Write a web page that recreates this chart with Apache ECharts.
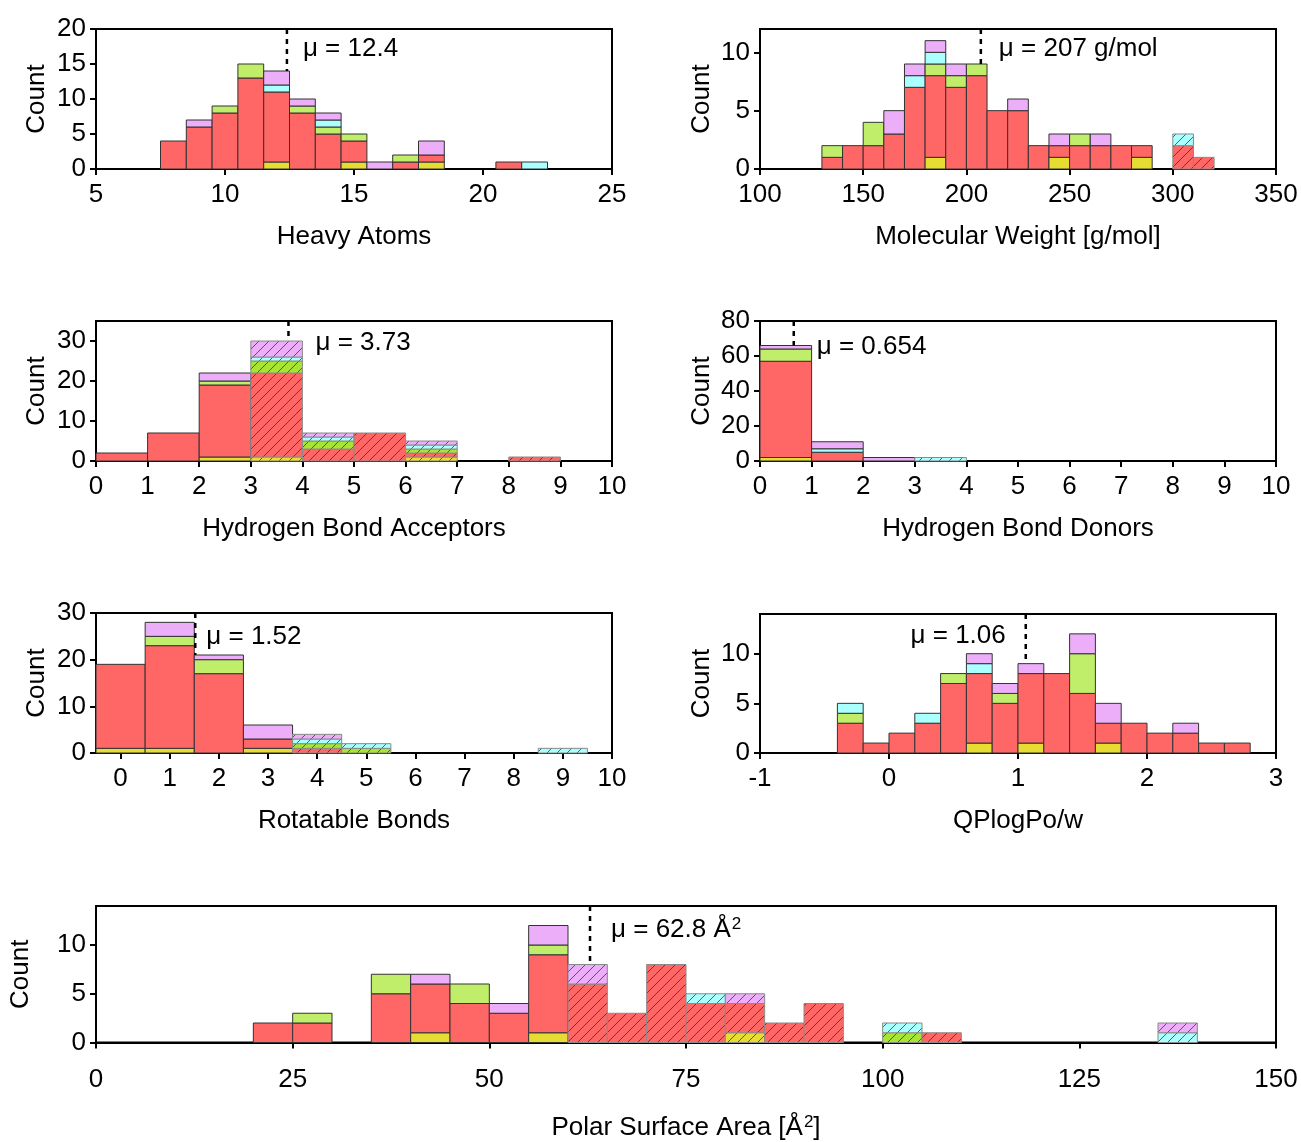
<!DOCTYPE html>
<html>
<head>
<meta charset="utf-8">
<script src="https://cdn.jsdelivr.net/npm/echarts@6/dist/echarts.min.js"></script>
<style>
html, body { margin: 0; padding: 0; background: #fff; }
#chart { width: 1301px; height: 1142px; }
</style>
</head>
<body>
<div id="chart"></div>
<script>
// stack order, bottom to top: yellow, red, green, cyan, violet
var segColors = ['#e6dc32', '#ff6666', '#c0ee6a', '#aaffff', '#ecaef8'];
var hatchColors = ['#e6dc32', '#ff6666', '#a8e532', '#aaffff', '#ecaef8'];

// Heavy Atoms, bins of 1 centred on integers (left edges)
var haLeft   = [7.5, 8.5, 9.5, 10.5, 11.5, 12.5, 13.5, 14.5, 15.5, 16.5, 17.5, 18.5, 19.5, 20.5, 21.5];
var haYellow = [0, 0, 0, 0, 1, 0, 0, 1, 0, 0, 1, 0, 0, 0, 0];
var haRed    = [4, 6, 8, 13, 10, 8, 5, 3, 0, 1, 1, 0, 0, 1, 0];
var haGreen  = [0, 0, 1, 2, 0, 1, 1, 1, 0, 1, 0, 0, 0, 0, 0];
var haCyan   = [0, 0, 0, 0, 1, 0, 1, 0, 0, 0, 0, 0, 0, 0, 1];
var haViolet = [0, 1, 0, 0, 2, 1, 1, 0, 1, 0, 2, 0, 0, 0, 0];

// Molecular Weight, bins of 10
var mwLeft   = [130, 140, 150, 160, 170, 180, 190, 200, 210, 220, 230, 240, 250, 260, 270, 280, 290, 300, 310];
var mwYellow = [0, 0, 0, 0, 0, 1, 0, 0, 0, 0, 0, 1, 0, 0, 0, 1, 0, 0, 0];
var mwRed    = [1, 2, 2, 3, 7, 7, 7, 8, 5, 5, 2, 1, 2, 2, 2, 1, 0, 2, 1];
var mwGreen  = [1, 0, 2, 0, 0, 1, 1, 1, 0, 0, 0, 0, 1, 0, 0, 0, 0, 0, 0];
var mwCyan   = [0, 0, 0, 0, 1, 1, 0, 0, 0, 0, 0, 0, 0, 0, 0, 0, 0, 1, 0];
var mwViolet = [0, 0, 0, 2, 1, 1, 1, 0, 0, 1, 0, 1, 0, 1, 0, 0, 0, 0, 0];

// Hydrogen Bond Acceptors
var hbaLeft   = [0, 1, 2, 3, 4, 5, 6, 7, 8];
var hbaYellow = [0, 0, 1, 1, 0, 0, 1, 0, 0];
var hbaRed    = [2, 7, 18, 21, 3, 7, 1, 0, 1];
var hbaGreen  = [0, 0, 1, 3, 2, 0, 1, 0, 0];
var hbaCyan   = [0, 0, 0, 1, 1, 0, 1, 0, 0];
var hbaViolet = [0, 0, 2, 4, 1, 0, 1, 0, 0];

// Hydrogen Bond Donors
var hbdLeft   = [0, 1, 2, 3];
var hbdYellow = [2, 0, 0, 0];
var hbdRed    = [55, 5, 0, 0];
var hbdGreen  = [7, 0, 0, 0];
var hbdCyan   = [0, 2, 0, 2];
var hbdViolet = [2, 4, 2, 0];

// Rotatable Bonds, centred on integers
var rbLeft   = [-0.5, 0.5, 1.5, 2.5, 3.5, 4.5, 5.5, 6.5, 7.5, 8.5];
var rbYellow = [1, 1, 0, 1, 0, 0, 0, 0, 0, 0];
var rbRed    = [18, 22, 17, 2, 1, 0, 0, 0, 0, 0];
var rbGreen  = [0, 2, 3, 0, 1, 1, 0, 0, 0, 0];
var rbCyan   = [0, 0, 0, 0, 1, 1, 0, 0, 0, 1];
var rbViolet = [0, 3, 1, 3, 1, 0, 0, 0, 0, 0];

// QPlogPo/w, bins of 0.2
var lpLeft   = [-0.4, -0.2, 0, 0.2, 0.4, 0.6, 0.8, 1.0, 1.2, 1.4, 1.6, 1.8, 2.0, 2.2, 2.4, 2.6];
var lpYellow = [0, 0, 0, 0, 0, 1, 0, 1, 0, 0, 1, 0, 0, 0, 0, 0];
var lpRed    = [3, 1, 2, 3, 7, 7, 5, 7, 8, 6, 2, 3, 2, 2, 1, 1];
var lpGreen  = [1, 0, 0, 0, 1, 0, 1, 0, 0, 4, 0, 0, 0, 0, 0, 0];
var lpCyan   = [1, 0, 0, 1, 0, 1, 0, 0, 0, 0, 0, 0, 0, 0, 0, 0];
var lpViolet = [0, 0, 0, 0, 0, 1, 1, 1, 0, 2, 2, 0, 0, 1, 0, 0];

// Polar Surface Area, bins of 5
var psaLeft   = [20, 25, 30, 35, 40, 45, 50, 55, 60, 65, 70, 75, 80, 85, 90, 95, 100, 105, 110, 115, 120, 125, 130, 135];
var psaYellow = [0, 0, 0, 0, 1, 0, 0, 1, 0, 0, 0, 0, 1, 0, 0, 0, 0, 0, 0, 0, 0, 0, 0, 0];
var psaRed    = [2, 2, 0, 5, 5, 4, 3, 8, 6, 3, 8, 4, 3, 2, 4, 0, 0, 1, 0, 0, 0, 0, 0, 0];
var psaGreen  = [0, 1, 0, 2, 0, 2, 0, 1, 0, 0, 0, 0, 0, 0, 0, 0, 1, 0, 0, 0, 0, 0, 0, 0];
var psaCyan   = [0, 0, 0, 0, 0, 0, 0, 0, 0, 0, 0, 1, 0, 0, 0, 0, 1, 0, 0, 0, 0, 0, 0, 1];
var psaViolet = [0, 0, 0, 0, 1, 0, 1, 2, 2, 0, 0, 0, 1, 0, 0, 0, 0, 0, 0, 0, 0, 0, 0, 1];

// means shown as dashed lines
var means = [12.4, 207, 3.73, 0.654, 1.52, 1.06, 62.8];
var meanText = ['μ = 12.4', 'μ = 207 g/mol', 'μ = 3.73', 'μ = 0.654', 'μ = 1.52', 'μ = 1.06', 'μ = 62.8 Å{sup|2}'];

var FONT = '"Liberation Sans", Arial, sans-serif';
var FS = 26;

var panels = [
    { left: haLeft, w: 1, stacks: [haYellow, haRed, haGreen, haCyan, haViolet], hatchFrom: null,
      grid: [96, 29, 516, 140], x: [5, 25, 5], y: [20, 5], xname: 'Heavy Atoms', lab: [16, 20, 'left'] },
    { left: mwLeft, w: 10, stacks: [mwYellow, mwRed, mwGreen, mwCyan, mwViolet], hatchFrom: 300,
      grid: [760, 29, 516, 140], x: [100, 350, 50], y: [12, 5], xname: 'Molecular Weight [g/mol]', lab: [18, 20, 'left'] },
    { left: hbaLeft, w: 1, stacks: [hbaYellow, hbaRed, hbaGreen, hbaCyan, hbaViolet], hatchFrom: 3,
      grid: [96, 321, 516, 140], x: [0, 10, 1], y: [35, 10], xname: 'Hydrogen Bond Acceptors', lab: [27, 22, 'left'] },
    { left: hbdLeft, w: 1, stacks: [hbdYellow, hbdRed, hbdGreen, hbdCyan, hbdViolet], hatchFrom: 3,
      grid: [760, 321, 516, 140], x: [0, 10, 1], y: [80, 20], xname: 'Hydrogen Bond Donors', lab: [23, 26, 'left'] },
    { left: rbLeft, w: 1, stacks: [rbYellow, rbRed, rbGreen, rbCyan, rbViolet], hatchFrom: 3.5,
      grid: [96, 613, 516, 140], x: [-0.5, 10, 1], y: [30, 10], xname: 'Rotatable Bonds', lab: [11, 24, 'left'] },
    { left: lpLeft, w: 0.2, stacks: [lpYellow, lpRed, lpGreen, lpCyan, lpViolet], hatchFrom: null,
      grid: [760, 614, 516, 139], x: [-1, 3, 1], y: [14, 5], xname: 'QPlogPo/w', lab: [-20, 22, 'right'] },
    { left: psaLeft, w: 5, stacks: [psaYellow, psaRed, psaGreen, psaCyan, psaViolet], hatchFrom: 60,
      grid: [96, 906, 1180, 140], x: [0, 150, 25], y: [14, 5], xname: 'Polar Surface Area [Å{sup|2}]', lab: [21, 24, 'left'] }
];

var supStyle = { fontSize: 17, fontFamily: FONT, color: '#000', verticalAlign: 'top', padding: [0, 0, 12, 1] };

function makeHatch(color) {
    var c = document.createElement('canvas');
    c.width = 10;
    c.height = 10;
    var ctx = c.getContext('2d');
    ctx.fillStyle = color;
    ctx.fillRect(0, 0, 10, 10);
    ctx.strokeStyle = 'rgba(40,40,40,0.8)';
    ctx.lineWidth = 0.9;
    ctx.beginPath();
    ctx.moveTo(-1, 11); ctx.lineTo(11, -1);
    ctx.moveTo(-1, 1); ctx.lineTo(1, -1);
    ctx.moveTo(9, 11); ctx.lineTo(11, 9);
    ctx.stroke();
    return { image: c, repeat: 'repeat' };
}
var hatchFills = hatchColors.map(makeHatch);

// one rect per stacked segment: [x0, x1, y0, y1, colourIndex, hatched]
function buildRects(p) {
    var out = [];
    for (var i = 0; i < p.left.length; i++) {
        var base = 0;
        var hatched = p.hatchFrom != null && p.left[i] >= p.hatchFrom - 1e-9 ? 1 : 0;
        for (var k = 0; k < p.stacks.length; k++) {
            var v = p.stacks[k][i];
            if (!v) continue;
            out.push([p.left[i], p.left[i] + p.w, base, base + v, k, hatched]);
            base += v;
        }
    }
    return out;
}

function binTotal(p, x) {
    for (var i = 0; i < p.left.length; i++) {
        if (x >= p.left[i] && x < p.left[i] + p.w) {
            var s = 0;
            p.stacks.forEach(function(st) { s += st[i]; });
            return s;
        }
    }
    return 0;
}

function renderBars(params, api) {
    var p0 = api.coord([api.value(0), api.value(3)]);
    var p1 = api.coord([api.value(1), api.value(2)]);
    var k = api.value(4);
    var h = api.value(5);
    return {
        type: 'rect',
        shape: { x: p0[0], y: p0[1], width: p1[0] - p0[0], height: p1[1] - p0[1] },
        style: {
            fill: h ? hatchFills[k] : segColors[k],
            stroke: h ? '#8a8a8a' : '#333',
            lineWidth: 1
        }
    };
}

function meanRenderer(i) {
    var lab = panels[i].lab;
    return function(params, api) {
        var x = api.value(0);
        var top = api.coord([x, api.value(2)]);
        var bar = api.coord([x, api.value(1)]);
        return {
            type: 'group',
            children: [{
                type: 'line',
                shape: { x1: top[0], y1: top[1], x2: bar[0], y2: bar[1] },
                style: { stroke: '#000', lineWidth: 2.5, lineDash: [5, 5] }
            }, {
                type: 'text',
                x: top[0] + lab[0],
                y: top[1] + lab[1],
                style: {
                    text: meanText[i],
                    font: FS + 'px ' + FONT,
                    fill: '#000',
                    align: lab[2],
                    verticalAlign: 'middle',
                    rich: { sup: supStyle }
                }
            }]
        };
    };
}

var grids = [], xAxes = [], yAxes = [], series = [];
panels.forEach(function(p, i) {
    grids.push({
        left: p.grid[0], top: p.grid[1], width: p.grid[2], height: p.grid[3],
        show: true, borderColor: '#000', borderWidth: 2, containLabel: false
    });

    var xTicks = [];
    for (var v = Math.ceil(p.x[0]); v <= p.x[1] + 1e-9; v += p.x[2]) xTicks.push(v);
    var yTicks = [];
    for (var u = 0; u <= p.y[0]; u += p.y[1]) yTicks.push(u);

    var wide = i === 6;
    xAxes.push({
        type: 'value', gridIndex: i, min: p.x[0], max: p.x[1],
        name: p.xname, nameLocation: 'middle', nameGap: wide ? 71 : 55,
        nameTextStyle: { fontSize: FS, fontFamily: FONT, color: '#000', rich: { sup: supStyle } },
        axisLine: { show: true, onZero: false, lineStyle: { color: '#000', width: 2 } },
        axisTick: { show: true, length: 6, lineStyle: { color: '#000', width: 2 }, customValues: xTicks },
        axisLabel: { color: '#000', fontSize: FS, fontFamily: FONT, margin: wide ? 24 : 13, customValues: xTicks },
        splitLine: { show: false }
    });
    yAxes.push({
        type: 'value', gridIndex: i, min: 0, max: p.y[0],
        name: 'Count', nameLocation: 'middle', nameRotate: 90,
        nameGap: wide ? 62 : (p.grid[0] > 500 ? 45 : 46),
        nameTextStyle: { fontSize: FS, fontFamily: FONT, color: '#000' },
        axisLine: { show: true, onZero: false, lineStyle: { color: '#000', width: 2 } },
        axisTick: { show: true, length: 6, lineStyle: { color: '#000', width: 2 }, customValues: yTicks },
        axisLabel: { color: '#000', fontSize: FS, fontFamily: FONT, margin: 10, customValues: yTicks },
        splitLine: { show: false }
    });

    series.push({
        type: 'custom', xAxisIndex: i, yAxisIndex: i,
        renderItem: renderBars,
        encode: { x: [0, 1], y: [2, 3] },
        data: buildRects(p),
        silent: true
    });
    series.push({
        type: 'custom', xAxisIndex: i, yAxisIndex: i,
        renderItem: meanRenderer(i),
        encode: { x: 0, y: [1, 2] },
        data: [[means[i], binTotal(p, means[i]), p.y[0]]],
        silent: true, z: 5
    });
});

var chart = echarts.init(document.getElementById('chart'), null, { renderer: 'canvas' });
chart.setOption({
    backgroundColor: '#fff',
    animation: false,
    grid: grids,
    xAxis: xAxes,
    yAxis: yAxes,
    series: series
});
</script>
</body>
</html>
